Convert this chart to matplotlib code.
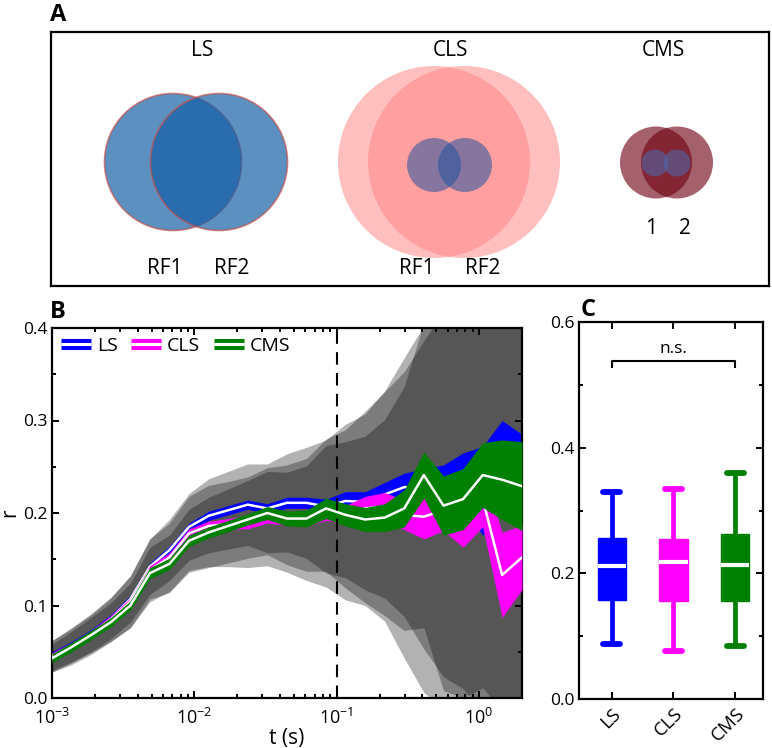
import matplotlib
matplotlib.use("Agg")
import matplotlib.pyplot as plt
import numpy as np
from matplotlib.patches import Circle
from matplotlib.lines import Line2D
import matplotlib.patheffects as pe
from matplotlib.ticker import MultipleLocator, LogLocator, NullFormatter

plt.rcParams['font.family'] = ['Open Sans', 'DejaVu Sans']
plt.rcParams['mathtext.default'] = 'regular'

# ---------------- data ----------------
groups = ["LS", "CLS", "CMS"]
colors = ["#0000ff", "#ff00ff", "#008000"]

t = [0.001, 0.00137, 0.00188, 0.00259, 0.00355, 0.00487, 0.00668, 0.00917,
     0.0126, 0.0173, 0.0237, 0.0325, 0.0447, 0.0613, 0.0841, 0.115, 0.158,
     0.217, 0.298, 0.409, 0.562, 0.771, 1.06, 1.45, 2.0]

LS_mean = [0.046, 0.057, 0.070, 0.086, 0.107, 0.142, 0.160, 0.185, 0.197, 0.203,
           0.209, 0.205, 0.211, 0.211, 0.207, 0.213, 0.212, 0.220, 0.228, 0.228,
           0.228, 0.235, 0.224, 0.255, 0.245]
CLS_mean = [0.045, 0.056, 0.069, 0.085, 0.104, 0.138, 0.152, 0.178, 0.186, 0.188,
            0.190, 0.196, 0.194, 0.193, 0.200, 0.198, 0.205, 0.207, 0.198, 0.196,
            0.203, 0.205, 0.215, 0.133, 0.152]
CMS_mean = [0.043, 0.055, 0.068, 0.082, 0.100, 0.135, 0.145, 0.170, 0.179, 0.186,
            0.193, 0.200, 0.194, 0.194, 0.205, 0.198, 0.193, 0.195, 0.205, 0.241,
            0.208, 0.215, 0.241, 0.236, 0.229]

LS_sem = [0.004, 0.004, 0.004, 0.004, 0.004, 0.004, 0.004, 0.004, 0.005, 0.005,
          0.005, 0.005, 0.006, 0.006, 0.008, 0.010, 0.011, 0.013, 0.015, 0.020,
          0.024, 0.030, 0.048, 0.045, 0.040]
CLS_sem = [0.004, 0.004, 0.004, 0.004, 0.004, 0.005, 0.005, 0.005, 0.005, 0.006,
           0.007, 0.007, 0.007, 0.007, 0.008, 0.010, 0.013, 0.015, 0.016, 0.024,
           0.022, 0.042, 0.030, 0.046, 0.035]
CMS_sem = [0.005, 0.005, 0.005, 0.005, 0.005, 0.006, 0.006, 0.006, 0.006, 0.006,
           0.006, 0.007, 0.008, 0.009, 0.011, 0.012, 0.013, 0.015, 0.020, 0.025,
           0.032, 0.033, 0.035, 0.043, 0.048]

LS_sd = [0.016, 0.018, 0.020, 0.022, 0.025, 0.030, 0.033, 0.036, 0.040, 0.042,
         0.044, 0.048, 0.053, 0.060, 0.072, 0.083, 0.095, 0.112, 0.140, 0.175,
         0.205, 0.225, 0.240, 0.260, 0.280]
CLS_sd = [0.017, 0.020, 0.022, 0.024, 0.028, 0.034, 0.037, 0.040, 0.044, 0.046,
          0.049, 0.053, 0.058, 0.066, 0.080, 0.092, 0.105, 0.124, 0.155, 0.190,
          0.215, 0.230, 0.230, 0.290, 0.280]
CMS_sd = [0.015, 0.017, 0.019, 0.021, 0.024, 0.028, 0.031, 0.034, 0.038, 0.040,
          0.042, 0.045, 0.050, 0.057, 0.068, 0.079, 0.090, 0.106, 0.132, 0.165,
          0.200, 0.215, 0.230, 0.250, 0.270]

# panel C box statistics: [whisker low, Q1, median, Q3, whisker high]
LS_box = [0.088, 0.158, 0.212, 0.257, 0.330]
CLS_box = [0.076, 0.156, 0.218, 0.254, 0.334]
CMS_box = [0.085, 0.156, 0.214, 0.263, 0.360]

means = [LS_mean, CLS_mean, CMS_mean]
sems = [LS_sem, CLS_sem, CMS_sem]
sds = [LS_sd, CLS_sd, CMS_sd]
boxes = [LS_box, CLS_box, CMS_box]

# ---------------- layout ----------------
W, H = 772, 748
fig = plt.figure(figsize=(W / 100, H / 100), dpi=100)


def rect(l, t_, r, b):
    return [l / W, 1 - b / H, (r - l) / W, (b - t_) / H]


axA = fig.add_axes(rect(51, 32, 769, 286))
axB = fig.add_axes(rect(52, 328, 522, 698))
axC = fig.add_axes(rect(579, 322, 763, 699))

for lab, (px, py) in zip("ABC", [(58, 15), (58, 312), (588, 310)]):
    fig.text(px / W, 1 - py / H, lab, fontsize=17, fontweight="bold",
             ha="center", va="center")

# ---------------- panel A (schematic) ----------------
axA.set_xlim(51, 769)
axA.set_ylim(286, 32)
axA.set_xticks([])
axA.set_yticks([])
for s in axA.spines.values():
    s.set_linewidth(1.6)

blue_rf = "#135ea6"
for cx in (173, 219):
    axA.add_patch(Circle((cx, 162), 68.5, facecolor=blue_rf, edgecolor="#c0504d",
                         lw=1.2, alpha=0.69))
for cx in (434, 464):
    axA.add_patch(Circle((cx, 162), 96, facecolor="#ff8080", edgecolor="none",
                         alpha=0.5))
for cx in (434, 465):
    axA.add_patch(Circle((cx, 165), 27, facecolor="#23549e", edgecolor="none",
                         alpha=0.55))
for cx in (656, 677):
    axA.add_patch(Circle((cx, 162.5), 36, facecolor="#6e0010", edgecolor="none",
                         alpha=0.62))
for cx in (655, 677):
    axA.add_patch(Circle((cx, 163), 13.5, facecolor="#4a6ab0", edgecolor="none",
                         alpha=0.55))

txtA = [("LS", 202, 50), ("CLS", 450, 50), ("CMS", 663, 50),
        ("RF1", 165, 268), ("RF2", 232, 268), ("RF1", 417, 268), ("RF2", 483, 268),
        ("1", 651, 229), ("2", 685, 229)]
for s, x, y in txtA:
    axA.text(x, y, s, fontsize=15, ha="center", va="center")

# ---------------- panel B ----------------
tt = np.array(t)
for m, sd in zip(means, sds):
    m = np.array(m); sd = np.array(sd)
    axB.fill_between(tt, m - sd, m + sd, color="black", alpha=0.3, lw=0, zorder=1)
for i, (m, se, c) in enumerate(zip(means, sems, colors)):
    m = np.array(m); se = np.array(se)
    axB.fill_between(tt, m - se, m + se, color=c, lw=0, zorder=2 + 2 * i)
    axB.plot(tt, m, color="white", lw=1.8, zorder=3 + 2 * i)

axB.axvline(0.1, color="black", ls=(0, (6, 4)), lw=1.5, zorder=10)
axB.set_xscale("log")
axB.set_xlim(1e-3, 2)
axB.set_ylim(0, 0.4)
axB.set_yticks([0, 0.1, 0.2, 0.3, 0.4])
axB.set_yticklabels(["0.0", "0.1", "0.2", "0.3", "0.4"])
axB.yaxis.set_minor_locator(MultipleLocator(0.05))
axB.xaxis.set_major_locator(LogLocator(base=10))
axB.xaxis.set_minor_locator(LogLocator(base=10, subs=np.arange(2, 10)))
axB.xaxis.set_minor_formatter(NullFormatter())
axB.set_xlabel("t (s)", fontsize=15, labelpad=0)
axB.set_ylabel("r", fontsize=15, labelpad=2)

handles = [Line2D([], [], color="white", lw=2.2, solid_capstyle="butt",
                  path_effects=[pe.Stroke(linewidth=8, foreground=c,
                                          capstyle="butt"), pe.Normal()])
           for c in colors]
axB.legend(handles, groups, loc="upper left", ncol=3, frameon=False,
           fontsize=14, handlelength=1.55, handletextpad=0.3,
           columnspacing=0.7, borderaxespad=0.15, borderpad=0.3)

# ---------------- panel C ----------------
stats = []
for name, b in zip(groups, boxes):
    stats.append(dict(label=name, whislo=b[0], q1=b[1], med=b[2], q3=b[3],
                      whishi=b[4], fliers=[]))
bp = axC.bxp(stats, positions=[1, 2, 3], widths=0.46, patch_artist=True,
             showfliers=False, capwidths=0.28)
for i, c in enumerate(colors):
    bp["boxes"][i].set(facecolor=c, edgecolor=c, lw=1)
    for w in bp["whiskers"][2 * i:2 * i + 2]:
        w.set(color=c, lw=3.4, solid_capstyle="butt")
    for cp in bp["caps"][2 * i:2 * i + 2]:
        cp.set(color=c, lw=4.2, solid_capstyle="round")
    bp["medians"][i].set(color="white", lw=3, solid_capstyle="butt")

axC.plot([1, 1, 3, 3], [0.528, 0.538, 0.538, 0.528], color="black", lw=1.5)
axC.text(2, 0.545, "n.s.", ha="center", va="bottom", fontsize=12.5)
axC.set_xlim(0.47, 3.45)
axC.set_ylim(0, 0.6)
axC.set_yticks([0, 0.2, 0.4, 0.6])
axC.set_yticklabels(["0.0", "0.2", "0.4", "0.6"])
axC.yaxis.set_minor_locator(MultipleLocator(0.1))
axC.set_xticks([1, 2, 3])
axC.set_xticklabels(groups, rotation=45, ha="right", rotation_mode="anchor")

for ax in (axB, axC):
    for s in ax.spines.values():
        s.set_linewidth(1.6)
    ax.tick_params(which="both", direction="in", top=True, right=True,
                   labelsize=12.5, width=1.4)
    ax.tick_params(which="major", length=5)
    ax.tick_params(which="minor", length=3)
axB.tick_params(axis="x", which="major", labelsize=13, pad=7)
axC.tick_params(axis="x", which="major", labelsize=13.5, pad=4)

fig.savefig("out.png", dpi=100)
